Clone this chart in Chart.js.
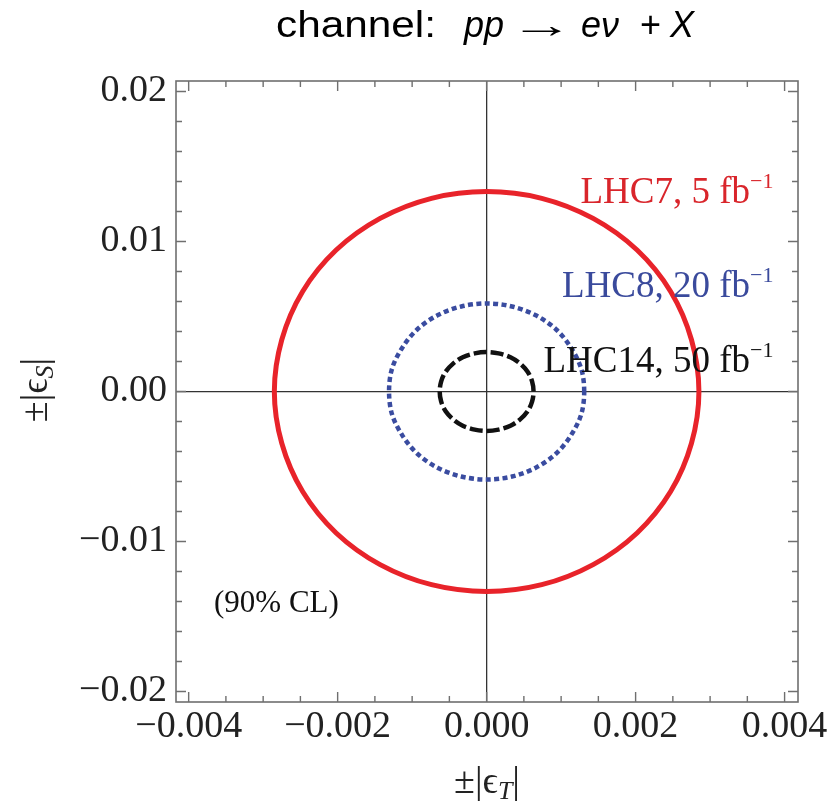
<!DOCTYPE html>
<html><head><meta charset="utf-8">
<script src="https://cdn.jsdelivr.net/npm/chart.js@4.4.0/dist/chart.umd.min.js"></script>
<style>html,body{margin:0;padding:0;background:#fff;}#wrap{width:832px;height:801px;position:relative;}</style>
</head><body><div id="wrap"><canvas id="c" width="832" height="801"></canvas></div>
<script>
// ---- contour points (every 15 degrees, closed loop) ----
const redX = [0.00285,0.00275,0.00247,0.00202,0.00143,0.00074,0,-0.00074,-0.00143,-0.00202,-0.00247,-0.00275,-0.00285,-0.00275,-0.00247,-0.00202,-0.00143,-0.00074,0,0.00074,0.00143,0.00202,0.00247,0.00275];
const redY = [0,0.00345,0.00667,0.00943,0.01154,0.01288,0.01333,0.01288,0.01154,0.00943,0.00667,0.00345,0,-0.00345,-0.00667,-0.00943,-0.01154,-0.01288,-0.01333,-0.01288,-0.01154,-0.00943,-0.00667,-0.00345];
const blueX = [0.00131,0.00127,0.00113,0.00093,0.00066,0.00034,0,-0.00034,-0.00066,-0.00093,-0.00113,-0.00127,-0.00131,-0.00127,-0.00113,-0.00093,-0.00066,-0.00034,0,0.00034,0.00066,0.00093,0.00113,0.00127];
const blueY = [0,0.00152,0.00294,0.00415,0.00508,0.00567,0.00587,0.00567,0.00508,0.00415,0.00294,0.00152,0,-0.00152,-0.00294,-0.00415,-0.00508,-0.00567,-0.00587,-0.00567,-0.00508,-0.00415,-0.00294,-0.00152];
const blackX = [0.00063,0.00061,0.00055,0.00045,0.00032,0.00016,0,-0.00016,-0.00032,-0.00045,-0.00055,-0.00061,-0.00063,-0.00061,-0.00055,-0.00045,-0.00032,-0.00016,0,0.00016,0.00032,0.00045,0.00055,0.00061];
const blackY = [0,0.00068,0.00132,0.00186,0.00228,0.00254,0.00263,0.00254,0.00228,0.00186,0.00132,0.00068,0,-0.00068,-0.00132,-0.00186,-0.00228,-0.00254,-0.00263,-0.00254,-0.00228,-0.00186,-0.00132,-0.00068];
const seriesNames = ['LHC7, 5 fb', 'LHC8, 20 fb', 'LHC14, 50 fb'];
const xMajorTicks = [-0.004,-0.002,0,0.002,0.004];
const yMajorTicks = [-0.02,-0.01,0,0.01,0.02];
const xMinorTicks = [-0.0035,-0.003,-0.0025,-0.0015,-0.001,-0.0005,0.0005,0.001,0.0015,0.0025,0.003,0.0035];
const yMinorTicks = [-0.018,-0.016,-0.014,-0.012,-0.008,-0.006,-0.004,-0.002,0.002,0.004,0.006,0.008,0.012,0.014,0.016,0.018];

const pts = (xs, ys) => xs.map((x, i) => ({x: x, y: ys[i]}));
const SERIF = '"Liberation Serif","Times New Roman",serif';
const SANS = '"Liberation Sans",Arial,sans-serif';
const MINUS = '\u2212';

// make each contour a closed smooth loop
const closeLoops = {
  id: 'closeLoops',
  afterDatasetUpdate(chart, args) {
    const line = args.meta.dataset;
    if (!line) return;
    line._loop = true; line._fullLoop = true;
    delete line._segments; delete line._path; line._pointsUpdated = false;
  }
};

const decor = {
  id: 'decor',
  afterDatasetsDraw(chart) {
    const ctx = chart.ctx, a = chart.chartArea;
    const xs = chart.scales.x, ys = chart.scales.y;
    ctx.save();
    ctx.strokeStyle = '#6f6f6f'; ctx.lineWidth = 1.6;
    ctx.strokeRect(a.left, a.top, a.right - a.left, a.bottom - a.top);
    ctx.lineWidth = 1.4;
    const tickX = (v, len) => { const p = xs.getPixelForValue(v);
      ctx.beginPath(); ctx.moveTo(p, a.bottom); ctx.lineTo(p, a.bottom - len);
      ctx.moveTo(p, a.top); ctx.lineTo(p, a.top + len); ctx.stroke(); };
    const tickY = (v, len) => { const p = ys.getPixelForValue(v);
      ctx.beginPath(); ctx.moveTo(a.left, p); ctx.lineTo(a.left + len, p);
      ctx.moveTo(a.right, p); ctx.lineTo(a.right - len, p); ctx.stroke(); };
    xMajorTicks.forEach(v => tickX(v, 10)); xMinorTicks.forEach(v => tickX(v, 6));
    yMajorTicks.forEach(v => tickY(v, 10)); yMinorTicks.forEach(v => tickY(v, 6));

    const labelStyle = [
      {color: '#d9252b', x: 0.00385, y: 0.0126},
      {color: '#3a4a9c', x: 0.00385, y: 0.00627},
      {color: '#111111', x: 0.00385, y: 0.00127}
    ];
    ctx.textBaseline = 'alphabetic'; ctx.textAlign = 'left';
    seriesNames.forEach((name, i) => {
      const s = labelStyle[i];
      ctx.fillStyle = s.color;
      ctx.font = '37px ' + SERIF; const w1 = ctx.measureText(name).width;
      ctx.font = '22px ' + SERIF; const sup = MINUS + '1'; const w2 = ctx.measureText(sup).width;
      const xr = xs.getPixelForValue(s.x), yb = ys.getPixelForValue(s.y);
      ctx.font = '37px ' + SERIF; ctx.fillText(name, xr - w1 - w2, yb);
      ctx.font = '22px ' + SERIF; ctx.fillText(sup, xr - w2, yb - 15);
    });
    ctx.fillStyle = '#111'; ctx.font = '31px ' + SERIF;
    ctx.fillText('(90% CL)', xs.getPixelForValue(-0.00366), ys.getPixelForValue(-0.01473));

    // title
    const titleParts = [
      {t: 'channel:', x: 276, it: false, w: 160},
      {t: 'pp', x: 464, it: true},
      {t: '\u2192', x: 510, it: false, w: 64},
      {t: 'e\u03BD', x: 581, it: true},
      {t: '+', x: 640, it: false},
      {t: 'X', x: 670, it: true}
    ];
    ctx.fillStyle = '#000';
    titleParts.forEach(p => {
      ctx.save();
      ctx.font = (p.it ? 'italic ' : '') + '36px ' + SANS;
      ctx.translate(p.x, 37);
      if (p.w) ctx.scale(p.w / ctx.measureText(p.t).width, 1);
      ctx.fillText(p.t, 0, 0);
      ctx.restore();
    });

    const drawAxisLabel = (sub) => {
      const parts = [
        {t: '\u00B1|\u03F5', f: '38px ' + SERIF, dy: 0},
        {t: sub, f: 'italic 26px ' + SERIF, dy: 6},
        {t: '|', f: '38px ' + SERIF, dy: 0}
      ];
      let w = 0;
      parts.forEach(p => { ctx.font = p.f; p.w = ctx.measureText(p.t).width; w += p.w; });
      let x = -w / 2;
      parts.forEach(p => { ctx.font = p.f; ctx.fillText(p.t, x, p.dy); x += p.w; });
    };
    ctx.fillStyle = '#222';
    ctx.save(); ctx.translate((a.left + a.right) / 2, 793); drawAxisLabel('T'); ctx.restore();
    ctx.save(); ctx.translate(47, 390); ctx.rotate(-Math.PI / 2); drawAxisLabel('S'); ctx.restore();
    ctx.restore();
  }
};

const fmt = (v, d) => (v < 0 ? MINUS : '') + Math.abs(v).toFixed(d);

new Chart(document.getElementById('c'), {
  type: 'scatter',
  data: {
    datasets: [
      {label: seriesNames[0], data: pts(redX, redY), showLine: true, borderColor: '#e8232a', borderWidth: 5, pointRadius: 0, tension: 0.33, fill: false},
      {label: seriesNames[1], data: pts(blueX, blueY), showLine: true, borderColor: '#3a4ca0', borderWidth: 4.5, borderDash: [5, 3.4], pointRadius: 0, tension: 0.33, fill: false},
      {label: seriesNames[2], data: pts(blackX, blackY), showLine: true, borderColor: '#111111', borderWidth: 4.5, borderDash: [13, 4], pointRadius: 0, tension: 0.33, fill: false}
    ]
  },
  options: {
    responsive: false, animation: false, devicePixelRatio: 1,
    layout: {padding: {top: 81, right: 34, left: 0, bottom: 0}},
    plugins: {legend: {display: false}, tooltip: {enabled: false}, title: {display: false}},
    scales: {
      x: {
        type: 'linear', min: -0.00417, max: 0.00418,
        afterBuildTicks: s => { s.ticks = xMajorTicks.map(v => ({value: v})); },
        afterFit: s => { s.height = 99; },
        border: {display: false},
        grid: {drawTicks: false, lineWidth: 1.3, color: c => (c.tick && c.tick.value === 0) ? '#333' : 'rgba(0,0,0,0)'},
        ticks: {padding: 2, color: '#222', font: {family: SERIF, size: 38}, maxRotation: 0, autoSkip: false, callback: v => fmt(v, 3)}
      },
      y: {
        type: 'linear', min: -0.0207, max: 0.0207,
        afterBuildTicks: s => { s.ticks = yMajorTicks.map(v => ({value: v})); },
        afterFit: s => { s.width = 176; },
        border: {display: false},
        grid: {drawTicks: false, lineWidth: 1.3, color: c => (c.tick && c.tick.value === 0) ? '#333' : 'rgba(0,0,0,0)'},
        ticks: {padding: 9, color: '#222', font: {family: SERIF, size: 38}, autoSkip: false, callback: v => fmt(v, 2)}
      }
    }
  },
  plugins: [closeLoops, decor]
});
</script></body></html>
